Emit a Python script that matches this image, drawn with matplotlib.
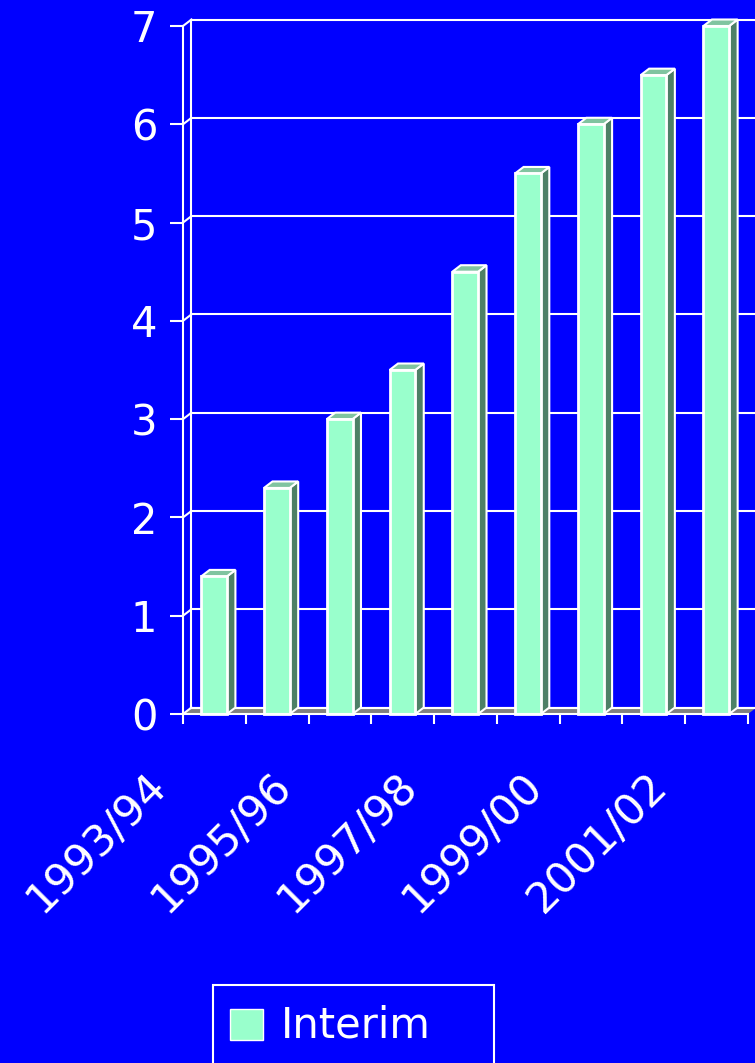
import numpy as np
import matplotlib.pyplot as plt
from matplotlib.patches import Polygon, Rectangle
from matplotlib.transforms import ScaledTranslation

seasons = ["1993/94", "1994/95", "1995/96", "1996/97", "1997/98",
           "1998/99", "1999/00", "2000/01", "2001/02"]
interim = [1.4, 2.3, 3.0, 3.5, 4.5, 5.5, 6.0, 6.5, 7.0]
yticks = [0, 1, 2, 3, 4, 5, 6, 7]

BLUE = "#0000FF"
FACE = "#99FFCC"
SIDE = "#4D8066"
TOP = "#80C4A0"
FLOOR = "#808080"

W, H = 755, 1063
fig = plt.figure(figsize=(W / 100, H / 100), dpi=100, facecolor=BLUE)
ax = fig.add_axes([183 / W, 1 - 714 / H, 565 / W, 688 / H])
ax.set_facecolor("none")
n = len(seasons)
ax.set_xlim(0, n)
ax.set_ylim(0, 7)

# depth offset of the fake 3d look (data units)
dx, dy = 0.135, 0.066

# floor
ax.add_patch(Polygon([(0, 0), (n, 0), (n + dx, dy), (dx, dy)], closed=True,
                     facecolor=FLOOR, edgecolor="none", clip_on=False, zorder=1))
ax.plot([dx, n + dx], [dy, dy], color="white", lw=1.5, clip_on=False, zorder=1.5)

# back wall gridlines + connectors
for k in yticks:
    ax.plot([dx, n + 1], [k + dy, k + dy], color="white", lw=1.5, clip_on=False, zorder=1.5)
    ax.plot([0, dx], [k, k + dy], color="white", lw=1.5, clip_on=False, zorder=1.5)
ax.plot([dx, dx], [dy, 7 + dy], color="white", lw=1.5, clip_on=False, zorder=1.5)

# bars
w = 0.41
for i, v in enumerate(interim):
    x0 = i + 0.29
    ax.add_patch(Polygon([(x0 + w, 0), (x0 + w + dx, dy), (x0 + w + dx, v + dy), (x0 + w, v)],
                         closed=True, facecolor=SIDE, edgecolor="white", lw=1.5,
                         clip_on=False, zorder=3))
    ax.add_patch(Polygon([(x0, v), (x0 + dx, v + dy), (x0 + w + dx, v + dy), (x0 + w, v)],
                         closed=True, facecolor=TOP, edgecolor="white", lw=1.5,
                         clip_on=False, zorder=3))
ax.bar([i + 0.29 for i in range(n)], interim, width=w, align="edge",
       color=FACE, edgecolor="white", lw=2, zorder=4, clip_on=False)

# axes
for s in ["top", "right"]:
    ax.spines[s].set_visible(False)
for s in ["left", "bottom"]:
    ax.spines[s].set_color("white")
    ax.spines[s].set_linewidth(1.5)
    ax.spines[s].set_zorder(5)

ax.set_yticks(yticks)
ax.set_yticklabels([str(t) for t in yticks])
ax.tick_params(axis="y", colors="white", length=9.5, width=1.5, pad=9, labelsize=30)
ax.set_xticks(range(n + 1))
ax.set_xticklabels([])
ax.tick_params(axis="x", colors="white", length=7.5, width=1.5)

off = ax.transData + ScaledTranslation(-0.24, -0.65, fig.dpi_scale_trans)
for i in range(0, n, 2):
    ax.text(i, 0, seasons[i], transform=off, rotation=45, ha="right", va="center",
            rotation_mode="anchor", color="white", fontsize=31)

# legend
fig.add_artist(Rectangle((213 / W, -10 / H), 281 / W, (78 + 10) / H,
                         transform=fig.transFigure, facecolor=BLUE,
                         edgecolor="white", lw=1.5))
fig.add_artist(Rectangle((230 / W, 1 - 1040 / H), 33 / W, 31 / H,
                         transform=fig.transFigure, facecolor=FACE,
                         edgecolor="white", lw=1))
fig.text(281 / W, 1 - 1026 / H, "Interim", color="white", fontsize=30,
         ha="left", va="center")

fig.savefig("out.png", dpi=100, facecolor=BLUE)
